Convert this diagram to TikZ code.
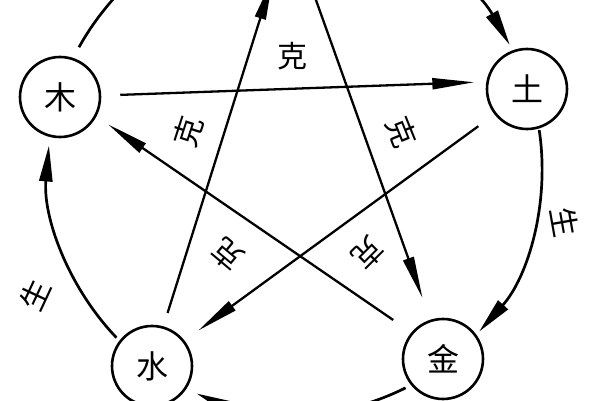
\documentclass[tikz,border=0pt]{standalone}
\usepackage{fontspec}
\newfontfamily\cjk{Noto Sans CJK SC}
\usetikzlibrary{arrows.meta}
\begin{document}
\begin{tikzpicture}[x=1pt,y=1pt,
  el/.style={circle, draw, line width=2.6pt, minimum size=80pt, inner sep=0pt, font=\cjk\fontsize{32}{32}\selectfont},
  lab/.style={font=\cjk\fontsize{30}{30}\selectfont, inner sep=0pt},
  conn/.style={line width=2.3pt, -{Triangle[length=42pt,width=11pt]}},
  cyc/.style={line width=2.7pt, -{Triangle[length=36pt,width=13pt]}}]
\useasboundingbox (0,0) rectangle (600,400);
\fill[white] (0,0) rectangle (600,400);
\clip (0,0) rectangle (600,400);
\coordinate (O) at (295,233);
\node[el] (mu) at (60,303) {木};
\node[el] (tu) at (527,311) {土};
\node[el] (shui) at (152,34) {水};
\node[el] (jin) at (443,41) {金};
\node[el] (huo) at (289,479) {};
% ke (overcoming) star
\draw[conn, shorten <=19pt, shorten >=12pt] (mu.2) -- (tu.170);
\draw[conn, shorten <=20pt, shorten >=17pt] (tu.218) -- (shui.38);
\draw[conn, shorten <=22pt, shorten >=14pt] (jin.140) -- (mu.-28);
\draw[conn, shorten <=14pt, shorten >=18pt] (shui.74) -- (huo.-105);
\draw[conn, shorten <=14pt, shorten >=23pt] (huo.-72) -- (jin.108);
% sheng (generating) cycle
\draw[cyc] ([shift={(151:247)}]O) arc[start angle=151, end angle=103, radius=247];
\draw[cyc] ([shift={(79:247)}]O) arc[start angle=79, end angle=29.6, radius=247];
\draw[cyc] ([shift={(8.6:247)}]O) arc[start angle=8.6, end angle=-41.8, radius=247];
\draw[cyc] ([shift={(-63.4:247)}]O) arc[start angle=-63.4, end angle=-113.5, radius=247];
\draw[cyc] ([shift={(223.7:247)}]O) arc[start angle=223.7, end angle=175, radius=247];
% labels
\node[lab] (k1) at (292,344) {克};
\node[lab, rotate=72] (k2) at (188,268) {克};
\node[lab, rotate=-68] (k3) at (402,268) {克};
\node[lab, rotate=140] (k4) at (228,145) {克};
\node[lab, rotate=-135] (k5) at (368,147) {克};
\node[lab, rotate=65] (s1) at (35,105) {生};
\node[lab, rotate=-80] (s2) at (565,178) {生};
\end{tikzpicture}
\end{document}
